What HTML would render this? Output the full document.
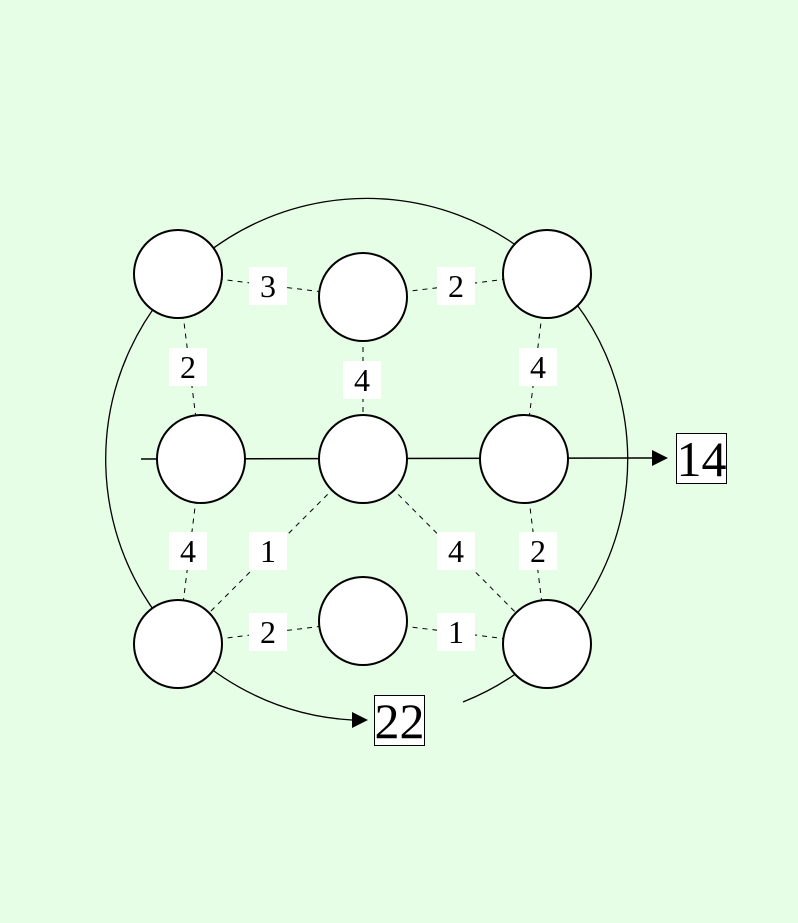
<!DOCTYPE html>
<html><head><style>body{margin:0;background:#e6fde6;}svg{display:block}</style></head><body>
<svg width="798" height="923" xmlns="http://www.w3.org/2000/svg">
<rect width="798" height="923" fill="#e6fde6"/>
<path d="M463,702 A261,261 0 1 0 352,720" fill="none" stroke="#000" stroke-width="1.3"/>
<polygon points="352,712 368,720 352,728" fill="#000"/>
<g stroke="#000" stroke-width="1" stroke-dasharray="5,5">
<line x1="178" y1="274" x2="363" y2="297"/><line x1="363" y1="297" x2="547" y2="274"/>
<line x1="178" y1="274" x2="201" y2="459"/><line x1="363" y1="297" x2="363" y2="459"/>
<line x1="547" y1="274" x2="524" y2="459"/><line x1="201" y1="459" x2="178" y2="644"/>
<line x1="363" y1="459" x2="178" y2="644"/><line x1="363" y1="459" x2="547" y2="644"/>
<line x1="524" y1="459" x2="547" y2="644"/><line x1="178" y1="644" x2="363" y2="621"/>
<line x1="363" y1="621" x2="547" y2="644"/>
</g>
<line x1="141" y1="459" x2="654" y2="458" stroke="#000" stroke-width="1.5"/>
<polygon points="652,450 668,458 652,466" fill="#000"/>
<g fill="#fff" stroke="#000" stroke-width="2">
<circle cx="178" cy="274" r="44"/><circle cx="363" cy="297" r="44"/><circle cx="547" cy="274" r="44"/>
<circle cx="201" cy="459" r="44"/><circle cx="363" cy="459" r="44"/><circle cx="524" cy="459" r="44"/>
<circle cx="178" cy="644" r="44"/><circle cx="363" cy="621" r="44"/><circle cx="547" cy="644" r="44"/>
</g>
<g fill="#fff">
<rect x="249" y="267" width="38" height="38"/><rect x="437" y="267" width="38" height="38"/>
<rect x="169" y="348" width="38" height="38"/><rect x="343" y="361" width="38" height="38"/>
<rect x="519" y="348" width="38" height="38"/><rect x="169" y="532" width="38" height="38"/>
<rect x="249" y="532" width="38" height="38"/><rect x="437" y="532" width="38" height="38"/>
<rect x="519" y="532" width="38" height="38"/><rect x="249" y="613" width="38" height="38"/>
<rect x="437" y="613" width="38" height="38"/>
</g>
<g font-family="Liberation Serif, serif" font-size="32" text-anchor="middle" fill="#000">
<text x="268" y="297">3</text><text x="456" y="297">2</text>
<text x="188" y="378">2</text><text x="362" y="391">4</text><text x="538" y="378">4</text>
<text x="188" y="562">4</text><text x="268" y="562">1</text><text x="456" y="562">4</text><text x="538" y="562">2</text>
<text x="268" y="643">2</text><text x="456" y="643">1</text>
</g>
<rect x="374.5" y="695.5" width="50" height="50" fill="#fff" stroke="#000" stroke-width="1"/>
<text x="399.5" y="738" font-family="Liberation Serif, serif" font-size="50" text-anchor="middle">22</text>
<rect x="676.5" y="433.5" width="50" height="50" fill="#fff" stroke="#000" stroke-width="1"/>
<text x="701.5" y="476" font-family="Liberation Serif, serif" font-size="50" text-anchor="middle">14</text>
</svg>
</body></html>
